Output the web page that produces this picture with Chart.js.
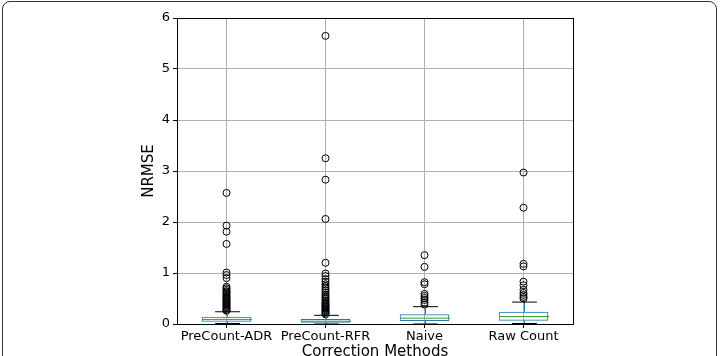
<!DOCTYPE html>
<html>
<head>
<meta charset="utf-8">
<script src="https://cdn.jsdelivr.net/npm/chart.js@4.4.1/dist/chart.umd.min.js"></script>
<style>
  html, body { margin: 0; padding: 0; background: #fff; overflow: hidden; }
  #wrap { position: relative; width: 720px; height: 356px; overflow: hidden; }
  #frame { position: absolute; left: 2px; top: 1px; width: 713px; height: 400px;
           border: 1px solid #333; border-radius: 8px; pointer-events: none; }
  canvas { position: absolute; left: 0; top: 0; }
</style>
</head>
<body>
<div id="wrap">
  <canvas id="chart" width="720" height="372"></canvas>
  <div id="frame"></div>
</div>
<script>
/* ===== DATA ===== */
const categories  = ['PreCount-ADR', 'PreCount-RFR', 'Naive', 'Raw Count'];
const q1          = [0.045, 0.025, 0.06, 0.065];
const q3          = [0.14, 0.10, 0.19, 0.24];
const medians     = [0.09, 0.055, 0.115, 0.145];
const whiskerLow  = [0.01, 0.0, 0.0, 0.01];
const whiskerHigh = [0.24, 0.17, 0.34, 0.43];

const outliersADR = [2.57, 1.93, 1.81, 1.57, 1.01, 0.96, 0.90, 0.73, 0.70, 0.67, 0.64, 0.62, 0.60,
                     0.57, 0.55, 0.53, 0.51, 0.49, 0.47, 0.45, 0.43, 0.41, 0.39, 0.37, 0.35, 0.33,
                     0.31, 0.29, 0.27, 0.26];
const outliersRFR = [5.65, 3.25, 2.83, 2.06, 1.20, 0.99, 0.94, 0.88, 0.83, 0.78, 0.74, 0.70, 0.66,
                     0.62, 0.58, 0.55, 0.52, 0.49, 0.46, 0.43, 0.41, 0.39, 0.37, 0.35, 0.33, 0.31,
                     0.29, 0.27, 0.25, 0.23, 0.21, 0.19];
const outliersNaive = [1.35, 1.12, 0.82, 0.78, 0.59, 0.55, 0.51, 0.47, 0.42, 0.38];
const outliersRaw   = [2.97, 2.28, 1.18, 1.13, 0.83, 0.76, 0.67, 0.61, 0.57, 0.53, 0.50];
const outlierSets   = [outliersADR, outliersRFR, outliersNaive, outliersRaw];

const yTicks = [0, 1, 2, 3, 4, 5, 6];

const BLUE  = '#1f77b4';
const GREEN = '#2ca02c';
const GRID  = '#b0b0b0';
const FONT  = "'DejaVu Sans', sans-serif";

/* ===== WHISKERS / CAPS / MEDIANS ===== */
const boxParts = {
  id: 'boxParts',
  afterDatasetsDraw(chart) {
    const { ctx, scales: { x, y } } = chart;
    const meta = chart.getDatasetMeta(0);
    const seg = (x1, y1, x2, y2, color) => {
      ctx.strokeStyle = color;
      ctx.beginPath(); ctx.moveTo(x1, y1); ctx.lineTo(x2, y2); ctx.stroke();
    };
    ctx.save();
    ctx.lineWidth = 1;
    categories.forEach((c, i) => {
      const cx = Math.round(x.getPixelForValue(i)) + 0.5;
      const half = meta.data[i].width / 2;
      const capHalf = half / 2;
      const yHi = y.getPixelForValue(whiskerHigh[i]);
      const yLo = y.getPixelForValue(whiskerLow[i]);
      seg(cx, y.getPixelForValue(q3[i]), cx, yHi, BLUE);
      seg(cx, y.getPixelForValue(q1[i]), cx, yLo, BLUE);
      seg(cx - capHalf, yHi, cx + capHalf, yHi, '#000');
      seg(cx - capHalf, yLo, cx + capHalf, yLo, '#000');
      const ym = y.getPixelForValue(medians[i]);
      seg(cx - half, ym, cx + half, ym, GREEN);
    });
    ctx.restore();
  }
};

/* ===== PLOT FRAME ===== */
const frame = {
  id: 'frame',
  afterDraw(chart) {
    const { ctx, chartArea: a } = chart;
    ctx.save();
    ctx.strokeStyle = '#000';
    ctx.lineWidth = 1;
    ctx.strokeRect(Math.round(a.left) + 0.5, Math.round(a.top) + 0.5,
                   Math.round(a.width), Math.round(a.height));
    ctx.restore();
  }
};

const outlierPoints = [];
outlierSets.forEach((set, i) => set.forEach(v => outlierPoints.push({ x: categories[i], y: v })));

new Chart(document.getElementById('chart'), {
  type: 'bar',
  data: {
    labels: categories,
    datasets: [
      {
        data: categories.map((c, i) => [q1[i], q3[i]]),
        backgroundColor: 'rgba(0,0,0,0)',
        borderColor: BLUE,
        borderWidth: 1,
        borderSkipped: false,
        barPercentage: 0.5,
        categoryPercentage: 1,
        order: 2
      },
      {
        type: 'line',
        data: outlierPoints,
        showLine: false,
        pointStyle: 'circle',
        pointRadius: 3.5,
        pointBorderWidth: 1,
        pointBorderColor: '#000',
        pointBackgroundColor: 'rgba(0,0,0,0)',
        order: 1
      }
    ]
  },
  options: {
    responsive: false,
    animation: false,
    layout: { padding: { left: 140, right: 147, top: 18, bottom: 0 } },
    plugins: { legend: { display: false }, tooltip: { enabled: false } },
    scales: {
      x: {
        grid: { offset: false, color: GRID, tickColor: '#000', tickLength: 4 },
        border: { display: true, color: '#000' },
        ticks: { color: '#000', padding: 1, font: { family: FONT, size: 13 } },
        title: { display: true, text: 'Correction Methods', color: '#000',
                 padding: { top: 0, bottom: 11 }, font: { family: FONT, size: 15 } },
        afterFit: s => { s.height = 48; }
      },
      y: {
        min: 0, max: 6,
        afterBuildTicks: s => { s.ticks = yTicks.map(v => ({ value: v })); },
        grid: { color: GRID, tickColor: '#000', tickLength: 4 },
        border: { display: true, color: '#000' },
        ticks: { color: '#000', padding: 3, font: { family: FONT, size: 13 } },
        title: { display: true, text: 'NRMSE', color: '#000',
                 padding: { top: 0, bottom: 0 }, font: { family: FONT, size: 15 } },
        afterFit: s => { s.width = 37; }
      }
    }
  },
  plugins: [boxParts, frame]
});
</script>
</body>
</html>
